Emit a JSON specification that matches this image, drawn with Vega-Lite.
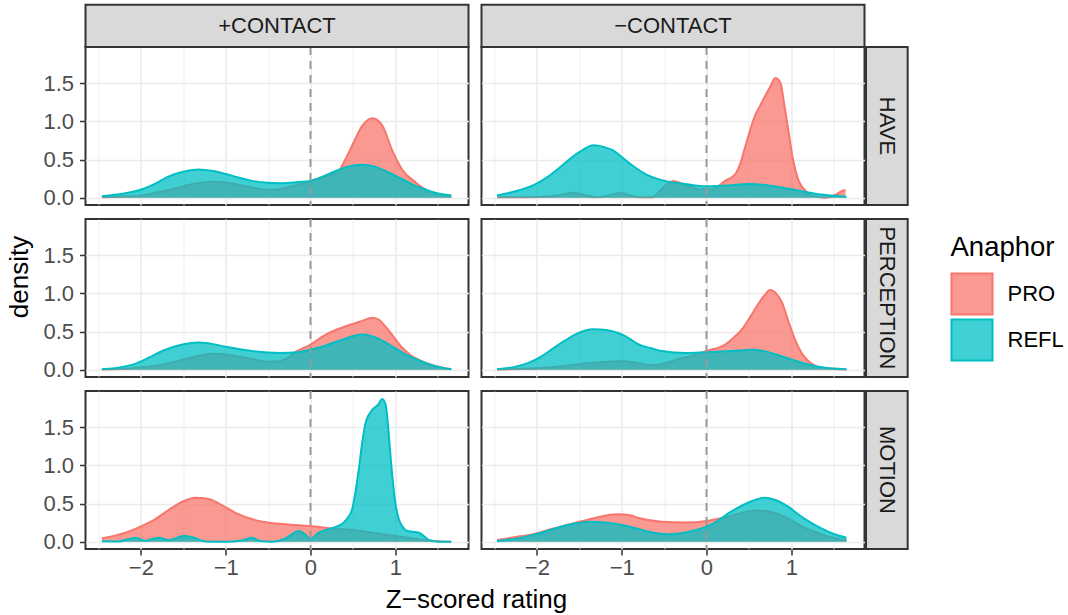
{
"$schema": "https://vega.github.io/schema/vega-lite/v6.json",
"background": "white",
"padding": {"left": 5.5, "top": 2, "right": 0, "bottom": 0},
"title": {"text": "Z−scored rating", "orient": "bottom", "anchor": "middle", "frame": "bounds", "fontSize": 26, "fontWeight": "normal", "color": "#000000", "offset": 9, "dx": -59},
"data": {"values": [
{"contact":"+CONTACT","verb":"HAVE","panel":"yes"},
{"contact":"−CONTACT","verb":"HAVE","panel":"yes"},
{"contact":"+CONTACT","verb":"PERCEPTION","panel":"yes"},
{"contact":"−CONTACT","verb":"PERCEPTION","panel":"yes"},
{"contact":"+CONTACT","verb":"MOTION","panel":"yes"},
{"contact":"−CONTACT","verb":"MOTION","panel":"yes"},
{"contact":"+CONTACT","verb":"HAVE","anaphor":"PRO","rating":-2.46,"density":0.005},
{"contact":"+CONTACT","verb":"HAVE","anaphor":"PRO","rating":-2.2,"density":0.015},
{"contact":"+CONTACT","verb":"HAVE","anaphor":"PRO","rating":-2.0,"density":0.03},
{"contact":"+CONTACT","verb":"HAVE","anaphor":"PRO","rating":-1.79,"density":0.074},
{"contact":"+CONTACT","verb":"HAVE","anaphor":"PRO","rating":-1.6,"density":0.12},
{"contact":"+CONTACT","verb":"HAVE","anaphor":"PRO","rating":-1.47,"density":0.16},
{"contact":"+CONTACT","verb":"HAVE","anaphor":"PRO","rating":-1.3,"density":0.195},
{"contact":"+CONTACT","verb":"HAVE","anaphor":"PRO","rating":-1.12,"density":0.21},
{"contact":"+CONTACT","verb":"HAVE","anaphor":"PRO","rating":-0.95,"density":0.19},
{"contact":"+CONTACT","verb":"HAVE","anaphor":"PRO","rating":-0.77,"density":0.15},
{"contact":"+CONTACT","verb":"HAVE","anaphor":"PRO","rating":-0.6,"density":0.115},
{"contact":"+CONTACT","verb":"HAVE","anaphor":"PRO","rating":-0.49,"density":0.1},
{"contact":"+CONTACT","verb":"HAVE","anaphor":"PRO","rating":-0.38,"density":0.11},
{"contact":"+CONTACT","verb":"HAVE","anaphor":"PRO","rating":-0.29,"density":0.13},
{"contact":"+CONTACT","verb":"HAVE","anaphor":"PRO","rating":-0.15,"density":0.17},
{"contact":"+CONTACT","verb":"HAVE","anaphor":"PRO","rating":0.0,"density":0.22},
{"contact":"+CONTACT","verb":"HAVE","anaphor":"PRO","rating":0.15,"density":0.27},
{"contact":"+CONTACT","verb":"HAVE","anaphor":"PRO","rating":0.33,"density":0.35},
{"contact":"+CONTACT","verb":"HAVE","anaphor":"PRO","rating":0.41,"density":0.5},
{"contact":"+CONTACT","verb":"HAVE","anaphor":"PRO","rating":0.49,"density":0.68},
{"contact":"+CONTACT","verb":"HAVE","anaphor":"PRO","rating":0.61,"density":0.94},
{"contact":"+CONTACT","verb":"HAVE","anaphor":"PRO","rating":0.73,"density":1.04},
{"contact":"+CONTACT","verb":"HAVE","anaphor":"PRO","rating":0.85,"density":0.94},
{"contact":"+CONTACT","verb":"HAVE","anaphor":"PRO","rating":0.96,"density":0.63},
{"contact":"+CONTACT","verb":"HAVE","anaphor":"PRO","rating":1.08,"density":0.37},
{"contact":"+CONTACT","verb":"HAVE","anaphor":"PRO","rating":1.24,"density":0.2},
{"contact":"+CONTACT","verb":"HAVE","anaphor":"PRO","rating":1.43,"density":0.066},
{"contact":"+CONTACT","verb":"HAVE","anaphor":"PRO","rating":1.66,"density":0.02},
{"contact":"+CONTACT","verb":"HAVE","anaphor":"REFL","rating":-2.46,"density":0.02},
{"contact":"+CONTACT","verb":"HAVE","anaphor":"REFL","rating":-2.2,"density":0.055},
{"contact":"+CONTACT","verb":"HAVE","anaphor":"REFL","rating":-1.985,"density":0.11},
{"contact":"+CONTACT","verb":"HAVE","anaphor":"REFL","rating":-1.8,"density":0.2},
{"contact":"+CONTACT","verb":"HAVE","anaphor":"REFL","rating":-1.67,"density":0.28},
{"contact":"+CONTACT","verb":"HAVE","anaphor":"REFL","rating":-1.5,"density":0.34},
{"contact":"+CONTACT","verb":"HAVE","anaphor":"REFL","rating":-1.32,"density":0.37},
{"contact":"+CONTACT","verb":"HAVE","anaphor":"REFL","rating":-1.15,"density":0.35},
{"contact":"+CONTACT","verb":"HAVE","anaphor":"REFL","rating":-1.0,"density":0.31},
{"contact":"+CONTACT","verb":"HAVE","anaphor":"REFL","rating":-0.85,"density":0.265},
{"contact":"+CONTACT","verb":"HAVE","anaphor":"REFL","rating":-0.69,"density":0.22},
{"contact":"+CONTACT","verb":"HAVE","anaphor":"REFL","rating":-0.5,"density":0.195},
{"contact":"+CONTACT","verb":"HAVE","anaphor":"REFL","rating":-0.37,"density":0.19},
{"contact":"+CONTACT","verb":"HAVE","anaphor":"REFL","rating":-0.14,"density":0.205},
{"contact":"+CONTACT","verb":"HAVE","anaphor":"REFL","rating":0.0,"density":0.22},
{"contact":"+CONTACT","verb":"HAVE","anaphor":"REFL","rating":0.15,"density":0.28},
{"contact":"+CONTACT","verb":"HAVE","anaphor":"REFL","rating":0.3,"density":0.35},
{"contact":"+CONTACT","verb":"HAVE","anaphor":"REFL","rating":0.45,"density":0.41},
{"contact":"+CONTACT","verb":"HAVE","anaphor":"REFL","rating":0.61,"density":0.43},
{"contact":"+CONTACT","verb":"HAVE","anaphor":"REFL","rating":0.75,"density":0.41},
{"contact":"+CONTACT","verb":"HAVE","anaphor":"REFL","rating":0.88,"density":0.35},
{"contact":"+CONTACT","verb":"HAVE","anaphor":"REFL","rating":1.05,"density":0.26},
{"contact":"+CONTACT","verb":"HAVE","anaphor":"REFL","rating":1.2,"density":0.175},
{"contact":"+CONTACT","verb":"HAVE","anaphor":"REFL","rating":1.35,"density":0.11},
{"contact":"+CONTACT","verb":"HAVE","anaphor":"REFL","rating":1.47,"density":0.065},
{"contact":"+CONTACT","verb":"HAVE","anaphor":"REFL","rating":1.66,"density":0.03},
{"contact":"−CONTACT","verb":"HAVE","anaphor":"PRO","rating":-2.47,"density":0.005},
{"contact":"−CONTACT","verb":"HAVE","anaphor":"PRO","rating":-2.0,"density":0.01},
{"contact":"−CONTACT","verb":"HAVE","anaphor":"PRO","rating":-1.75,"density":0.03},
{"contact":"−CONTACT","verb":"HAVE","anaphor":"PRO","rating":-1.57,"density":0.066},
{"contact":"−CONTACT","verb":"HAVE","anaphor":"PRO","rating":-1.45,"density":0.04},
{"contact":"−CONTACT","verb":"HAVE","anaphor":"PRO","rating":-1.31,"density":0.005},
{"contact":"−CONTACT","verb":"HAVE","anaphor":"PRO","rating":-1.15,"density":0.03},
{"contact":"−CONTACT","verb":"HAVE","anaphor":"PRO","rating":-1.02,"density":0.066},
{"contact":"−CONTACT","verb":"HAVE","anaphor":"PRO","rating":-0.9,"density":0.03},
{"contact":"−CONTACT","verb":"HAVE","anaphor":"PRO","rating":-0.8,"density":0.005},
{"contact":"−CONTACT","verb":"HAVE","anaphor":"PRO","rating":-0.64,"density":0.005},
{"contact":"−CONTACT","verb":"HAVE","anaphor":"PRO","rating":-0.53,"density":0.11},
{"contact":"−CONTACT","verb":"HAVE","anaphor":"PRO","rating":-0.45,"density":0.19},
{"contact":"−CONTACT","verb":"HAVE","anaphor":"PRO","rating":-0.39,"density":0.22},
{"contact":"−CONTACT","verb":"HAVE","anaphor":"PRO","rating":-0.3,"density":0.19},
{"contact":"−CONTACT","verb":"HAVE","anaphor":"PRO","rating":-0.2,"density":0.15},
{"contact":"−CONTACT","verb":"HAVE","anaphor":"PRO","rating":-0.09,"density":0.11},
{"contact":"−CONTACT","verb":"HAVE","anaphor":"PRO","rating":0.06,"density":0.11},
{"contact":"−CONTACT","verb":"HAVE","anaphor":"PRO","rating":0.15,"density":0.16},
{"contact":"−CONTACT","verb":"HAVE","anaphor":"PRO","rating":0.22,"density":0.22},
{"contact":"−CONTACT","verb":"HAVE","anaphor":"PRO","rating":0.34,"density":0.31},
{"contact":"−CONTACT","verb":"HAVE","anaphor":"PRO","rating":0.4,"density":0.45},
{"contact":"−CONTACT","verb":"HAVE","anaphor":"PRO","rating":0.46,"density":0.68},
{"contact":"−CONTACT","verb":"HAVE","anaphor":"PRO","rating":0.57,"density":1.07},
{"contact":"−CONTACT","verb":"HAVE","anaphor":"PRO","rating":0.63,"density":1.2},
{"contact":"−CONTACT","verb":"HAVE","anaphor":"PRO","rating":0.69,"density":1.33},
{"contact":"−CONTACT","verb":"HAVE","anaphor":"PRO","rating":0.75,"density":1.45},
{"contact":"−CONTACT","verb":"HAVE","anaphor":"PRO","rating":0.81,"density":1.57},
{"contact":"−CONTACT","verb":"HAVE","anaphor":"PRO","rating":0.87,"density":1.51},
{"contact":"−CONTACT","verb":"HAVE","anaphor":"PRO","rating":0.92,"density":1.2},
{"contact":"−CONTACT","verb":"HAVE","anaphor":"PRO","rating":0.97,"density":0.85},
{"contact":"−CONTACT","verb":"HAVE","anaphor":"PRO","rating":1.02,"density":0.5},
{"contact":"−CONTACT","verb":"HAVE","anaphor":"PRO","rating":1.08,"density":0.24},
{"contact":"−CONTACT","verb":"HAVE","anaphor":"PRO","rating":1.16,"density":0.1},
{"contact":"−CONTACT","verb":"HAVE","anaphor":"PRO","rating":1.24,"density":0.03},
{"contact":"−CONTACT","verb":"HAVE","anaphor":"PRO","rating":1.4,"density":0.0},
{"contact":"−CONTACT","verb":"HAVE","anaphor":"PRO","rating":1.52,"density":0.035},
{"contact":"−CONTACT","verb":"HAVE","anaphor":"PRO","rating":1.58,"density":0.08},
{"contact":"−CONTACT","verb":"HAVE","anaphor":"PRO","rating":1.64,"density":0.1},
{"contact":"−CONTACT","verb":"HAVE","anaphor":"REFL","rating":-2.47,"density":0.03},
{"contact":"−CONTACT","verb":"HAVE","anaphor":"REFL","rating":-2.2,"density":0.1},
{"contact":"−CONTACT","verb":"HAVE","anaphor":"REFL","rating":-2.02,"density":0.175},
{"contact":"−CONTACT","verb":"HAVE","anaphor":"REFL","rating":-1.85,"density":0.29},
{"contact":"−CONTACT","verb":"HAVE","anaphor":"REFL","rating":-1.71,"density":0.415},
{"contact":"−CONTACT","verb":"HAVE","anaphor":"REFL","rating":-1.51,"density":0.59},
{"contact":"−CONTACT","verb":"HAVE","anaphor":"REFL","rating":-1.33,"density":0.686},
{"contact":"−CONTACT","verb":"HAVE","anaphor":"REFL","rating":-1.2,"density":0.66},
{"contact":"−CONTACT","verb":"HAVE","anaphor":"REFL","rating":-1.12,"density":0.63},
{"contact":"−CONTACT","verb":"HAVE","anaphor":"REFL","rating":-0.92,"density":0.46},
{"contact":"−CONTACT","verb":"HAVE","anaphor":"REFL","rating":-0.72,"density":0.31},
{"contact":"−CONTACT","verb":"HAVE","anaphor":"REFL","rating":-0.53,"density":0.23},
{"contact":"−CONTACT","verb":"HAVE","anaphor":"REFL","rating":-0.25,"density":0.18},
{"contact":"−CONTACT","verb":"HAVE","anaphor":"REFL","rating":0.0,"density":0.15},
{"contact":"−CONTACT","verb":"HAVE","anaphor":"REFL","rating":0.26,"density":0.16},
{"contact":"−CONTACT","verb":"HAVE","anaphor":"REFL","rating":0.5,"density":0.18},
{"contact":"−CONTACT","verb":"HAVE","anaphor":"REFL","rating":0.73,"density":0.16},
{"contact":"−CONTACT","verb":"HAVE","anaphor":"REFL","rating":1.0,"density":0.11},
{"contact":"−CONTACT","verb":"HAVE","anaphor":"REFL","rating":1.32,"density":0.044},
{"contact":"−CONTACT","verb":"HAVE","anaphor":"REFL","rating":1.65,"density":0.013},
{"contact":"+CONTACT","verb":"PERCEPTION","anaphor":"PRO","rating":-2.46,"density":0.003},
{"contact":"+CONTACT","verb":"PERCEPTION","anaphor":"PRO","rating":-2.1,"density":0.02},
{"contact":"+CONTACT","verb":"PERCEPTION","anaphor":"PRO","rating":-1.79,"density":0.057},
{"contact":"+CONTACT","verb":"PERCEPTION","anaphor":"PRO","rating":-1.47,"density":0.14},
{"contact":"+CONTACT","verb":"PERCEPTION","anaphor":"PRO","rating":-1.3,"density":0.185},
{"contact":"+CONTACT","verb":"PERCEPTION","anaphor":"PRO","rating":-1.16,"density":0.21},
{"contact":"+CONTACT","verb":"PERCEPTION","anaphor":"PRO","rating":-1.0,"density":0.2},
{"contact":"+CONTACT","verb":"PERCEPTION","anaphor":"PRO","rating":-0.77,"density":0.157},
{"contact":"+CONTACT","verb":"PERCEPTION","anaphor":"PRO","rating":-0.49,"density":0.105},
{"contact":"+CONTACT","verb":"PERCEPTION","anaphor":"PRO","rating":-0.38,"density":0.11},
{"contact":"+CONTACT","verb":"PERCEPTION","anaphor":"PRO","rating":-0.29,"density":0.14},
{"contact":"+CONTACT","verb":"PERCEPTION","anaphor":"PRO","rating":-0.18,"density":0.23},
{"contact":"+CONTACT","verb":"PERCEPTION","anaphor":"PRO","rating":0.0,"density":0.33},
{"contact":"+CONTACT","verb":"PERCEPTION","anaphor":"PRO","rating":0.18,"density":0.46},
{"contact":"+CONTACT","verb":"PERCEPTION","anaphor":"PRO","rating":0.37,"density":0.55},
{"contact":"+CONTACT","verb":"PERCEPTION","anaphor":"PRO","rating":0.5,"density":0.6},
{"contact":"+CONTACT","verb":"PERCEPTION","anaphor":"PRO","rating":0.61,"density":0.64},
{"contact":"+CONTACT","verb":"PERCEPTION","anaphor":"PRO","rating":0.73,"density":0.68},
{"contact":"+CONTACT","verb":"PERCEPTION","anaphor":"PRO","rating":0.8,"density":0.66},
{"contact":"+CONTACT","verb":"PERCEPTION","anaphor":"PRO","rating":0.88,"density":0.57},
{"contact":"+CONTACT","verb":"PERCEPTION","anaphor":"PRO","rating":0.98,"density":0.43},
{"contact":"+CONTACT","verb":"PERCEPTION","anaphor":"PRO","rating":1.08,"density":0.29},
{"contact":"+CONTACT","verb":"PERCEPTION","anaphor":"PRO","rating":1.18,"density":0.19},
{"contact":"+CONTACT","verb":"PERCEPTION","anaphor":"PRO","rating":1.28,"density":0.127},
{"contact":"+CONTACT","verb":"PERCEPTION","anaphor":"PRO","rating":1.47,"density":0.048},
{"contact":"+CONTACT","verb":"PERCEPTION","anaphor":"PRO","rating":1.66,"density":0.005},
{"contact":"+CONTACT","verb":"PERCEPTION","anaphor":"REFL","rating":-2.46,"density":0.005},
{"contact":"+CONTACT","verb":"PERCEPTION","anaphor":"REFL","rating":-2.2,"density":0.04},
{"contact":"+CONTACT","verb":"PERCEPTION","anaphor":"REFL","rating":-2.06,"density":0.08},
{"contact":"+CONTACT","verb":"PERCEPTION","anaphor":"REFL","rating":-1.9,"density":0.16},
{"contact":"+CONTACT","verb":"PERCEPTION","anaphor":"REFL","rating":-1.75,"density":0.245},
{"contact":"+CONTACT","verb":"PERCEPTION","anaphor":"REFL","rating":-1.51,"density":0.33},
{"contact":"+CONTACT","verb":"PERCEPTION","anaphor":"REFL","rating":-1.32,"density":0.355},
{"contact":"+CONTACT","verb":"PERCEPTION","anaphor":"REFL","rating":-1.15,"density":0.335},
{"contact":"+CONTACT","verb":"PERCEPTION","anaphor":"REFL","rating":-1.0,"density":0.3},
{"contact":"+CONTACT","verb":"PERCEPTION","anaphor":"REFL","rating":-0.69,"density":0.245},
{"contact":"+CONTACT","verb":"PERCEPTION","anaphor":"REFL","rating":-0.37,"density":0.22},
{"contact":"+CONTACT","verb":"PERCEPTION","anaphor":"REFL","rating":-0.14,"density":0.23},
{"contact":"+CONTACT","verb":"PERCEPTION","anaphor":"REFL","rating":0.1,"density":0.29},
{"contact":"+CONTACT","verb":"PERCEPTION","anaphor":"REFL","rating":0.33,"density":0.375},
{"contact":"+CONTACT","verb":"PERCEPTION","anaphor":"REFL","rating":0.61,"density":0.46},
{"contact":"+CONTACT","verb":"PERCEPTION","anaphor":"REFL","rating":0.75,"density":0.43},
{"contact":"+CONTACT","verb":"PERCEPTION","anaphor":"REFL","rating":0.88,"density":0.36},
{"contact":"+CONTACT","verb":"PERCEPTION","anaphor":"REFL","rating":1.0,"density":0.28},
{"contact":"+CONTACT","verb":"PERCEPTION","anaphor":"REFL","rating":1.12,"density":0.2},
{"contact":"+CONTACT","verb":"PERCEPTION","anaphor":"REFL","rating":1.26,"density":0.13},
{"contact":"+CONTACT","verb":"PERCEPTION","anaphor":"REFL","rating":1.4,"density":0.07},
{"contact":"+CONTACT","verb":"PERCEPTION","anaphor":"REFL","rating":1.66,"density":0.005},
{"contact":"−CONTACT","verb":"PERCEPTION","anaphor":"PRO","rating":-2.47,"density":0.003},
{"contact":"−CONTACT","verb":"PERCEPTION","anaphor":"PRO","rating":-1.9,"density":0.026},
{"contact":"−CONTACT","verb":"PERCEPTION","anaphor":"PRO","rating":-1.39,"density":0.083},
{"contact":"−CONTACT","verb":"PERCEPTION","anaphor":"PRO","rating":-1.0,"density":0.11},
{"contact":"−CONTACT","verb":"PERCEPTION","anaphor":"PRO","rating":-0.8,"density":0.085},
{"contact":"−CONTACT","verb":"PERCEPTION","anaphor":"PRO","rating":-0.64,"density":0.057},
{"contact":"−CONTACT","verb":"PERCEPTION","anaphor":"PRO","rating":-0.5,"density":0.08},
{"contact":"−CONTACT","verb":"PERCEPTION","anaphor":"PRO","rating":-0.33,"density":0.14},
{"contact":"−CONTACT","verb":"PERCEPTION","anaphor":"PRO","rating":-0.15,"density":0.19},
{"contact":"−CONTACT","verb":"PERCEPTION","anaphor":"PRO","rating":0.0,"density":0.245},
{"contact":"−CONTACT","verb":"PERCEPTION","anaphor":"PRO","rating":0.22,"density":0.33},
{"contact":"−CONTACT","verb":"PERCEPTION","anaphor":"PRO","rating":0.32,"density":0.42},
{"contact":"−CONTACT","verb":"PERCEPTION","anaphor":"PRO","rating":0.42,"density":0.53},
{"contact":"−CONTACT","verb":"PERCEPTION","anaphor":"PRO","rating":0.52,"density":0.7},
{"contact":"−CONTACT","verb":"PERCEPTION","anaphor":"PRO","rating":0.61,"density":0.86},
{"contact":"−CONTACT","verb":"PERCEPTION","anaphor":"PRO","rating":0.68,"density":0.97},
{"contact":"−CONTACT","verb":"PERCEPTION","anaphor":"PRO","rating":0.75,"density":1.044},
{"contact":"−CONTACT","verb":"PERCEPTION","anaphor":"PRO","rating":0.82,"density":1.0},
{"contact":"−CONTACT","verb":"PERCEPTION","anaphor":"PRO","rating":0.89,"density":0.88},
{"contact":"−CONTACT","verb":"PERCEPTION","anaphor":"PRO","rating":0.97,"density":0.62},
{"contact":"−CONTACT","verb":"PERCEPTION","anaphor":"PRO","rating":1.05,"density":0.376},
{"contact":"−CONTACT","verb":"PERCEPTION","anaphor":"PRO","rating":1.12,"density":0.22},
{"contact":"−CONTACT","verb":"PERCEPTION","anaphor":"PRO","rating":1.2,"density":0.114},
{"contact":"−CONTACT","verb":"PERCEPTION","anaphor":"PRO","rating":1.36,"density":0.026},
{"contact":"−CONTACT","verb":"PERCEPTION","anaphor":"PRO","rating":1.65,"density":0.003},
{"contact":"−CONTACT","verb":"PERCEPTION","anaphor":"REFL","rating":-2.47,"density":0.005},
{"contact":"−CONTACT","verb":"PERCEPTION","anaphor":"REFL","rating":-2.25,"density":0.04},
{"contact":"−CONTACT","verb":"PERCEPTION","anaphor":"REFL","rating":-2.1,"density":0.09},
{"contact":"−CONTACT","verb":"PERCEPTION","anaphor":"REFL","rating":-1.95,"density":0.17},
{"contact":"−CONTACT","verb":"PERCEPTION","anaphor":"REFL","rating":-1.82,"density":0.27},
{"contact":"−CONTACT","verb":"PERCEPTION","anaphor":"REFL","rating":-1.67,"density":0.38},
{"contact":"−CONTACT","verb":"PERCEPTION","anaphor":"REFL","rating":-1.55,"density":0.46},
{"contact":"−CONTACT","verb":"PERCEPTION","anaphor":"REFL","rating":-1.33,"density":0.53},
{"contact":"−CONTACT","verb":"PERCEPTION","anaphor":"REFL","rating":-1.18,"density":0.52},
{"contact":"−CONTACT","verb":"PERCEPTION","anaphor":"REFL","rating":-1.04,"density":0.48},
{"contact":"−CONTACT","verb":"PERCEPTION","anaphor":"REFL","rating":-0.9,"density":0.4},
{"contact":"−CONTACT","verb":"PERCEPTION","anaphor":"REFL","rating":-0.8,"density":0.33},
{"contact":"−CONTACT","verb":"PERCEPTION","anaphor":"REFL","rating":-0.65,"density":0.28},
{"contact":"−CONTACT","verb":"PERCEPTION","anaphor":"REFL","rating":-0.53,"density":0.245},
{"contact":"−CONTACT","verb":"PERCEPTION","anaphor":"REFL","rating":-0.25,"density":0.22},
{"contact":"−CONTACT","verb":"PERCEPTION","anaphor":"REFL","rating":0.0,"density":0.23},
{"contact":"−CONTACT","verb":"PERCEPTION","anaphor":"REFL","rating":0.3,"density":0.245},
{"contact":"−CONTACT","verb":"PERCEPTION","anaphor":"REFL","rating":0.53,"density":0.26},
{"contact":"−CONTACT","verb":"PERCEPTION","anaphor":"REFL","rating":0.73,"density":0.23},
{"contact":"−CONTACT","verb":"PERCEPTION","anaphor":"REFL","rating":0.87,"density":0.18},
{"contact":"−CONTACT","verb":"PERCEPTION","anaphor":"REFL","rating":1.0,"density":0.135},
{"contact":"−CONTACT","verb":"PERCEPTION","anaphor":"REFL","rating":1.15,"density":0.08},
{"contact":"−CONTACT","verb":"PERCEPTION","anaphor":"REFL","rating":1.32,"density":0.04},
{"contact":"−CONTACT","verb":"PERCEPTION","anaphor":"REFL","rating":1.65,"density":0.005},
{"contact":"+CONTACT","verb":"MOTION","anaphor":"PRO","rating":-2.46,"density":0.044},
{"contact":"+CONTACT","verb":"MOTION","anaphor":"PRO","rating":-2.18,"density":0.118},
{"contact":"+CONTACT","verb":"MOTION","anaphor":"PRO","rating":-2.0,"density":0.2},
{"contact":"+CONTACT","verb":"MOTION","anaphor":"PRO","rating":-1.87,"density":0.27},
{"contact":"+CONTACT","verb":"MOTION","anaphor":"PRO","rating":-1.63,"density":0.446},
{"contact":"+CONTACT","verb":"MOTION","anaphor":"PRO","rating":-1.5,"density":0.53},
{"contact":"+CONTACT","verb":"MOTION","anaphor":"PRO","rating":-1.36,"density":0.577},
{"contact":"+CONTACT","verb":"MOTION","anaphor":"PRO","rating":-1.2,"density":0.56},
{"contact":"+CONTACT","verb":"MOTION","anaphor":"PRO","rating":-1.08,"density":0.5},
{"contact":"+CONTACT","verb":"MOTION","anaphor":"PRO","rating":-0.95,"density":0.42},
{"contact":"+CONTACT","verb":"MOTION","anaphor":"PRO","rating":-0.85,"density":0.36},
{"contact":"+CONTACT","verb":"MOTION","anaphor":"PRO","rating":-0.61,"density":0.27},
{"contact":"+CONTACT","verb":"MOTION","anaphor":"PRO","rating":-0.29,"density":0.227},
{"contact":"+CONTACT","verb":"MOTION","anaphor":"PRO","rating":0.0,"density":0.205},
{"contact":"+CONTACT","verb":"MOTION","anaphor":"PRO","rating":0.26,"density":0.17},
{"contact":"+CONTACT","verb":"MOTION","anaphor":"PRO","rating":0.49,"density":0.153},
{"contact":"+CONTACT","verb":"MOTION","anaphor":"PRO","rating":0.73,"density":0.118},
{"contact":"+CONTACT","verb":"MOTION","anaphor":"PRO","rating":1.0,"density":0.074},
{"contact":"+CONTACT","verb":"MOTION","anaphor":"PRO","rating":1.28,"density":0.03},
{"contact":"+CONTACT","verb":"MOTION","anaphor":"PRO","rating":1.47,"density":0.01},
{"contact":"+CONTACT","verb":"MOTION","anaphor":"PRO","rating":1.66,"density":0.0},
{"contact":"+CONTACT","verb":"MOTION","anaphor":"REFL","rating":-2.46,"density":0.005},
{"contact":"+CONTACT","verb":"MOTION","anaphor":"REFL","rating":-2.26,"density":0.003},
{"contact":"+CONTACT","verb":"MOTION","anaphor":"REFL","rating":-2.16,"density":0.03},
{"contact":"+CONTACT","verb":"MOTION","anaphor":"REFL","rating":-2.06,"density":0.05},
{"contact":"+CONTACT","verb":"MOTION","anaphor":"REFL","rating":-1.95,"density":0.012},
{"contact":"+CONTACT","verb":"MOTION","anaphor":"REFL","rating":-1.85,"density":0.04},
{"contact":"+CONTACT","verb":"MOTION","anaphor":"REFL","rating":-1.79,"density":0.05},
{"contact":"+CONTACT","verb":"MOTION","anaphor":"REFL","rating":-1.67,"density":0.02},
{"contact":"+CONTACT","verb":"MOTION","anaphor":"REFL","rating":-1.58,"density":0.05},
{"contact":"+CONTACT","verb":"MOTION","anaphor":"REFL","rating":-1.49,"density":0.075},
{"contact":"+CONTACT","verb":"MOTION","anaphor":"REFL","rating":-1.38,"density":0.055},
{"contact":"+CONTACT","verb":"MOTION","anaphor":"REFL","rating":-1.24,"density":0.003},
{"contact":"+CONTACT","verb":"MOTION","anaphor":"REFL","rating":-1.0,"density":0.0},
{"contact":"+CONTACT","verb":"MOTION","anaphor":"REFL","rating":-0.8,"density":0.02},
{"contact":"+CONTACT","verb":"MOTION","anaphor":"REFL","rating":-0.69,"density":0.05},
{"contact":"+CONTACT","verb":"MOTION","anaphor":"REFL","rating":-0.6,"density":0.01},
{"contact":"+CONTACT","verb":"MOTION","anaphor":"REFL","rating":-0.45,"density":0.0},
{"contact":"+CONTACT","verb":"MOTION","anaphor":"REFL","rating":-0.3,"density":0.04},
{"contact":"+CONTACT","verb":"MOTION","anaphor":"REFL","rating":-0.2,"density":0.11},
{"contact":"+CONTACT","verb":"MOTION","anaphor":"REFL","rating":-0.14,"density":0.14},
{"contact":"+CONTACT","verb":"MOTION","anaphor":"REFL","rating":-0.07,"density":0.1},
{"contact":"+CONTACT","verb":"MOTION","anaphor":"REFL","rating":0.0,"density":0.04},
{"contact":"+CONTACT","verb":"MOTION","anaphor":"REFL","rating":0.1,"density":0.118},
{"contact":"+CONTACT","verb":"MOTION","anaphor":"REFL","rating":0.26,"density":0.18},
{"contact":"+CONTACT","verb":"MOTION","anaphor":"REFL","rating":0.39,"density":0.25},
{"contact":"+CONTACT","verb":"MOTION","anaphor":"REFL","rating":0.45,"density":0.33},
{"contact":"+CONTACT","verb":"MOTION","anaphor":"REFL","rating":0.49,"density":0.42},
{"contact":"+CONTACT","verb":"MOTION","anaphor":"REFL","rating":0.53,"density":0.65},
{"contact":"+CONTACT","verb":"MOTION","anaphor":"REFL","rating":0.57,"density":0.95},
{"contact":"+CONTACT","verb":"MOTION","anaphor":"REFL","rating":0.61,"density":1.3},
{"contact":"+CONTACT","verb":"MOTION","anaphor":"REFL","rating":0.65,"density":1.56},
{"contact":"+CONTACT","verb":"MOTION","anaphor":"REFL","rating":0.73,"density":1.73},
{"contact":"+CONTACT","verb":"MOTION","anaphor":"REFL","rating":0.8,"density":1.8},
{"contact":"+CONTACT","verb":"MOTION","anaphor":"REFL","rating":0.845,"density":1.87},
{"contact":"+CONTACT","verb":"MOTION","anaphor":"REFL","rating":0.885,"density":1.8},
{"contact":"+CONTACT","verb":"MOTION","anaphor":"REFL","rating":0.92,"density":1.45},
{"contact":"+CONTACT","verb":"MOTION","anaphor":"REFL","rating":0.94,"density":1.17},
{"contact":"+CONTACT","verb":"MOTION","anaphor":"REFL","rating":0.97,"density":0.8},
{"contact":"+CONTACT","verb":"MOTION","anaphor":"REFL","rating":1.0,"density":0.51},
{"contact":"+CONTACT","verb":"MOTION","anaphor":"REFL","rating":1.04,"density":0.3},
{"contact":"+CONTACT","verb":"MOTION","anaphor":"REFL","rating":1.08,"density":0.205},
{"contact":"+CONTACT","verb":"MOTION","anaphor":"REFL","rating":1.14,"density":0.14},
{"contact":"+CONTACT","verb":"MOTION","anaphor":"REFL","rating":1.2,"density":0.13},
{"contact":"+CONTACT","verb":"MOTION","anaphor":"REFL","rating":1.28,"density":0.118},
{"contact":"+CONTACT","verb":"MOTION","anaphor":"REFL","rating":1.34,"density":0.07},
{"contact":"+CONTACT","verb":"MOTION","anaphor":"REFL","rating":1.4,"density":0.02},
{"contact":"+CONTACT","verb":"MOTION","anaphor":"REFL","rating":1.51,"density":0.0},
{"contact":"+CONTACT","verb":"MOTION","anaphor":"REFL","rating":1.66,"density":0.0},
{"contact":"−CONTACT","verb":"MOTION","anaphor":"PRO","rating":-2.47,"density":0.022},
{"contact":"−CONTACT","verb":"MOTION","anaphor":"PRO","rating":-2.2,"density":0.07},
{"contact":"−CONTACT","verb":"MOTION","anaphor":"PRO","rating":-2.02,"density":0.105},
{"contact":"−CONTACT","verb":"MOTION","anaphor":"PRO","rating":-1.85,"density":0.16},
{"contact":"−CONTACT","verb":"MOTION","anaphor":"PRO","rating":-1.67,"density":0.214},
{"contact":"−CONTACT","verb":"MOTION","anaphor":"PRO","rating":-1.5,"density":0.26},
{"contact":"−CONTACT","verb":"MOTION","anaphor":"PRO","rating":-1.39,"density":0.29},
{"contact":"−CONTACT","verb":"MOTION","anaphor":"PRO","rating":-1.2,"density":0.34},
{"contact":"−CONTACT","verb":"MOTION","anaphor":"PRO","rating":-1.04,"density":0.358},
{"contact":"−CONTACT","verb":"MOTION","anaphor":"PRO","rating":-0.9,"density":0.345},
{"contact":"−CONTACT","verb":"MOTION","anaphor":"PRO","rating":-0.8,"density":0.31},
{"contact":"−CONTACT","verb":"MOTION","anaphor":"PRO","rating":-0.53,"density":0.26},
{"contact":"−CONTACT","verb":"MOTION","anaphor":"PRO","rating":-0.25,"density":0.25},
{"contact":"−CONTACT","verb":"MOTION","anaphor":"PRO","rating":0.0,"density":0.27},
{"contact":"−CONTACT","verb":"MOTION","anaphor":"PRO","rating":0.22,"density":0.32},
{"contact":"−CONTACT","verb":"MOTION","anaphor":"PRO","rating":0.46,"density":0.39},
{"contact":"−CONTACT","verb":"MOTION","anaphor":"PRO","rating":0.59,"density":0.41},
{"contact":"−CONTACT","verb":"MOTION","anaphor":"PRO","rating":0.72,"density":0.4},
{"contact":"−CONTACT","verb":"MOTION","anaphor":"PRO","rating":0.85,"density":0.36},
{"contact":"−CONTACT","verb":"MOTION","anaphor":"PRO","rating":1.0,"density":0.28},
{"contact":"−CONTACT","verb":"MOTION","anaphor":"PRO","rating":1.12,"density":0.205},
{"contact":"−CONTACT","verb":"MOTION","anaphor":"PRO","rating":1.25,"density":0.14},
{"contact":"−CONTACT","verb":"MOTION","anaphor":"PRO","rating":1.4,"density":0.083},
{"contact":"−CONTACT","verb":"MOTION","anaphor":"PRO","rating":1.65,"density":0.015},
{"contact":"−CONTACT","verb":"MOTION","anaphor":"REFL","rating":-2.47,"density":0.009},
{"contact":"−CONTACT","verb":"MOTION","anaphor":"REFL","rating":-2.2,"density":0.05},
{"contact":"−CONTACT","verb":"MOTION","anaphor":"REFL","rating":-2.02,"density":0.096},
{"contact":"−CONTACT","verb":"MOTION","anaphor":"REFL","rating":-1.85,"density":0.15},
{"contact":"−CONTACT","verb":"MOTION","anaphor":"REFL","rating":-1.67,"density":0.21},
{"contact":"−CONTACT","verb":"MOTION","anaphor":"REFL","rating":-1.5,"density":0.245},
{"contact":"−CONTACT","verb":"MOTION","anaphor":"REFL","rating":-1.39,"density":0.26},
{"contact":"−CONTACT","verb":"MOTION","anaphor":"REFL","rating":-1.2,"density":0.25},
{"contact":"−CONTACT","verb":"MOTION","anaphor":"REFL","rating":-1.04,"density":0.227},
{"contact":"−CONTACT","verb":"MOTION","anaphor":"REFL","rating":-0.85,"density":0.18},
{"contact":"−CONTACT","verb":"MOTION","anaphor":"REFL","rating":-0.72,"density":0.14},
{"contact":"−CONTACT","verb":"MOTION","anaphor":"REFL","rating":-0.45,"density":0.096},
{"contact":"−CONTACT","verb":"MOTION","anaphor":"REFL","rating":-0.17,"density":0.14},
{"contact":"−CONTACT","verb":"MOTION","anaphor":"REFL","rating":0.06,"density":0.227},
{"contact":"−CONTACT","verb":"MOTION","anaphor":"REFL","rating":0.3,"density":0.4},
{"contact":"−CONTACT","verb":"MOTION","anaphor":"REFL","rating":0.53,"density":0.53},
{"contact":"−CONTACT","verb":"MOTION","anaphor":"REFL","rating":0.69,"density":0.577},
{"contact":"−CONTACT","verb":"MOTION","anaphor":"REFL","rating":0.85,"density":0.53},
{"contact":"−CONTACT","verb":"MOTION","anaphor":"REFL","rating":1.0,"density":0.43},
{"contact":"−CONTACT","verb":"MOTION","anaphor":"REFL","rating":1.08,"density":0.36},
{"contact":"−CONTACT","verb":"MOTION","anaphor":"REFL","rating":1.2,"density":0.27},
{"contact":"−CONTACT","verb":"MOTION","anaphor":"REFL","rating":1.36,"density":0.17},
{"contact":"−CONTACT","verb":"MOTION","anaphor":"REFL","rating":1.5,"density":0.1},
{"contact":"−CONTACT","verb":"MOTION","anaphor":"REFL","rating":1.65,"density":0.052}
]},
"facet": {
  "row": {"field": "verb", "type": "nominal", "sort": ["HAVE", "PERCEPTION", "MOTION"],
    "header": {"title": "density", "labels": false, "titleFontSize": 26, "titleFontWeight": "normal", "titleColor": "#000000", "titlePadding": 0}},
  "column": {"field": "contact", "type": "nominal", "sort": ["+CONTACT", "−CONTACT"],
    "header": {"title": null, "labels": false}}
},
"spacing": {"row": 14, "column": 13},
"bounds": "flush",
"spec": {
  "width": 383,
  "height": 158,
  "layer": [
    {"transform": [{"filter": "datum.anaphor === 'PRO'"}],
     "mark": {"type": "area", "fillOpacity": 0.75, "interpolate": "monotone", "invalid": null},
     "encoding": {
       "x": {"field": "rating", "type": "quantitative",
         "scale": {"domain": [-2.653, 1.863], "nice": false, "zero": false},
         "axis": {"title": null, "values": [-2.5, -2, -1.5, -1, -0.5, 0, 0.5, 1, 1.5],
           "labelExpr": "datum.value % 1 === 0 ? format(datum.value, 'd') : ''",
           "domain": false, "labelFontSize": 22, "labelColor": "#4D4D4D", "labelPadding": 2, "labelOverlap": false, "labelFlush": false,
           "tickSize": 6, "tickWidth": 1.5,
           "tickColor": {"condition": {"test": "datum.value % 1 === 0", "value": "#333333"}, "value": "transparent"},
           "gridColor": "#EBEBEB",
           "gridWidth": {"condition": {"test": "datum.value % 1 === 0", "value": 1.5}, "value": 0.8}}},
       "y": {"field": "density", "type": "quantitative",
         "scale": {"domain": [-0.096, 1.975], "nice": false, "zero": false},
         "axis": {"title": null, "values": [0, 0.25, 0.5, 0.75, 1, 1.25, 1.5, 1.75],
           "labelExpr": "datum.value % 0.5 === 0 ? format(datum.value, '.1f') : ''",
           "domain": false, "labelFontSize": 22, "labelColor": "#4D4D4D", "labelPadding": 6, "labelOverlap": false, "labelFlush": false,
           "tickSize": 6, "tickWidth": 1.5,
           "tickColor": {"condition": {"test": "datum.value % 0.5 === 0", "value": "#333333"}, "value": "transparent"},
           "gridColor": "#EBEBEB",
           "gridWidth": {"condition": {"test": "datum.value % 0.5 === 0", "value": 1.5}, "value": 0.8}}},
       "y2": {"datum": 0},
       "color": {"field": "anaphor", "type": "nominal", "scale": {"domain": ["PRO", "REFL"], "range": ["#F8766D", "#00BFC4"]},
         "legend": {"title": "Anaphor", "orient": "none", "legendX": 865, "legendY": 187,
           "titleFontSize": 27.5, "titleFontWeight": "normal", "titleColor": "#000000", "titlePadding": 11,
           "labelFontSize": 22, "labelColor": "#000000", "labelOffset": 14,
           "symbolType": "square", "symbolSize": 1681, "symbolStrokeWidth": 2, "rowPadding": -5,
           "encode": {"symbols": {"update": {"fill": {"scale": "color", "field": "value"}, "stroke": {"scale": "color", "field": "value"}, "fillOpacity": {"value": 0.75}, "strokeOpacity": {"value": 1}, "opacity": {"value": 1}, "strokeWidth": {"value": 2}}}}}}}},
    {"transform": [{"filter": "datum.anaphor === 'PRO'"}],
     "mark": {"type": "line", "strokeWidth": 2, "interpolate": "monotone", "invalid": null},
     "encoding": {"x": {"field": "rating", "type": "quantitative"}, "y": {"field": "density", "type": "quantitative"}, "color": {"field": "anaphor", "type": "nominal"}}},
    {"transform": [{"filter": "datum.anaphor === 'REFL'"}],
     "mark": {"type": "area", "fillOpacity": 0.75, "interpolate": "monotone", "invalid": null},
     "encoding": {"x": {"field": "rating", "type": "quantitative"}, "y": {"field": "density", "type": "quantitative"}, "y2": {"datum": 0}, "color": {"field": "anaphor", "type": "nominal"}}},
    {"transform": [{"filter": "datum.anaphor === 'REFL'"}],
     "mark": {"type": "line", "strokeWidth": 2, "interpolate": "monotone", "invalid": null},
     "encoding": {"x": {"field": "rating", "type": "quantitative"}, "y": {"field": "density", "type": "quantitative"}, "color": {"field": "anaphor", "type": "nominal"}}},
    {"transform": [{"filter": "datum.panel === 'yes'"}],
     "mark": {"type": "rule", "color": "#999999", "strokeWidth": 2, "strokeDash": [8, 6]},
     "encoding": {"x": {"datum": 0, "type": "quantitative"}}},
    {"transform": [{"filter": "datum.panel === 'yes' && datum.verb === 'HAVE'"}],
     "mark": {"type": "rect", "fill": "#D9D9D9", "stroke": "#333333", "strokeWidth": 2},
     "encoding": {"x": {"datum": -2.653, "type": "quantitative"}, "x2": {"datum": 1.863}, "y": {"datum": 1.975, "type": "quantitative"}, "y2": {"datum": 2.529}}},
    {"transform": [{"filter": "datum.panel === 'yes' && datum.verb === 'HAVE'"}],
     "mark": {"type": "text", "fontSize": 22, "color": "#1A1A1A", "baseline": "middle", "align": "center"},
     "encoding": {"x": {"datum": -0.395, "type": "quantitative"}, "y": {"datum": 2.252, "type": "quantitative"}, "text": {"field": "contact"}}},
    {"transform": [{"filter": "datum.panel === 'yes' && datum.contact === '−CONTACT'"}],
     "mark": {"type": "rect", "fill": "#D9D9D9", "stroke": "#333333", "strokeWidth": 2},
     "encoding": {"x": {"datum": 1.881, "type": "quantitative"}, "x2": {"datum": 2.372}, "y": {"datum": -0.096, "type": "quantitative"}, "y2": {"datum": 1.975}}},
    {"transform": [{"filter": "datum.panel === 'yes' && datum.contact === '−CONTACT'"}],
     "mark": {"type": "text", "fontSize": 22, "color": "#1A1A1A", "baseline": "middle", "align": "center", "angle": 90},
     "encoding": {"x": {"datum": 2.127, "type": "quantitative"}, "y": {"datum": 0.94, "type": "quantitative"}, "text": {"field": "verb"}}}
  ]
},
"config": {
  "font": "Liberation Sans",
  "view": {"stroke": "#333333", "strokeWidth": 2},
  "axis": {"gridColor": "#EBEBEB"}
}
}
